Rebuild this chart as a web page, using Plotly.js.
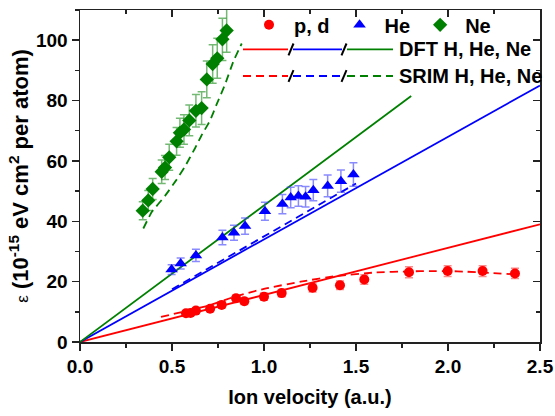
<!DOCTYPE html>
<html>
<head>
<meta charset="utf-8">
<script src="https://cdn.plot.ly/plotly-3.0.1.min.js"></script>
<style>html,body{margin:0;padding:0;background:#fff;}#chart{width:555px;height:416px;}</style>
</head>
<body>
<div id="chart"></div>
<script>
// ---- data ----
const pd_v = [0.576,0.601,0.630,0.707,0.770,0.848,0.893,1.000,1.096,1.264,1.413,1.545,1.788,1.998,2.188,2.364];
const pd_e = [9.5,9.6,10.4,11.0,12.3,14.5,13.5,15.0,16.2,18.0,18.8,20.7,23.1,23.5,23.5,22.7];
const pd_err = [0.8,0.8,0.9,0.9,1.0,1.1,1.1,1.2,1.2,1.4,1.4,1.6,1.8,1.8,1.8,1.7];

const he_v = [0.498,0.547,0.630,0.774,0.837,0.897,1.005,1.100,1.145,1.187,1.226,1.268,1.346,1.418,1.486];
const he_e = [24.0,26.0,28.7,34.6,36.2,38.4,43.3,45.7,47.9,48.4,48.1,50.3,51.7,53.3,55.5];
const he_err = [1.6,1.8,2.0,2.4,2.5,2.7,3.0,3.2,3.4,3.4,3.4,3.5,3.6,3.7,3.9];

const ne_v = [0.341,0.371,0.395,0.444,0.462,0.485,0.525,0.543,0.565,0.594,0.630,0.661,0.689,0.721,0.746,0.774,0.797];
const ne_e = [43.5,46.9,50.7,56.4,57.8,61.2,66.5,69.3,70.4,73.4,76.6,77.5,87.0,92.1,94.0,100.3,103.2];
const ne_err = [3.0,3.3,3.5,3.9,4.0,4.3,4.6,4.8,4.9,5.1,5.4,5.4,6.1,6.4,6.6,7.0,7.2];

const dft_h_v = [0, 2.5], dft_h_e = [0, 39.0];
const dft_he_v = [0, 2.5], dft_he_e = [0, 85.0];
const dft_ne_v = [0, 1.8], dft_ne_e = [0, 81.5];

const srim_h_v = [0.44,0.60,0.70,0.85,1.00,1.20,1.40,1.60,1.80,1.90,2.00,2.10,2.20,2.37];
const srim_h_e = [8.3,10.6,12.1,15.2,17.6,20.0,21.9,23.0,23.4,23.5,23.5,23.3,23.0,22.4];
const srim_he_v = [0.50,0.70,0.90,1.10,1.30,1.50];
const srim_he_e = [17.5,24.5,31.6,38.7,45.6,52.5];
const srim_ne_v = [0.344,0.389,0.462,0.525,0.571,0.625,0.661,0.707,0.743,0.788,0.833,0.879];
const srim_ne_e = [37.6,43.0,48.4,53.8,58.2,64.2,68.5,73.4,78.8,85.3,92.9,98.9];

const names = ['p, d', 'He', 'Ne'];
const legendLine2 = 'DFT H, He, Ne';
const legendLine3 = 'SRIM H, He, Ne';
const xTitle = 'Ion velocity (a.u.)';
const yTitle = '<span style="font-weight:normal;font-size:17px">ε</span> (10<sup>-15</sup> eV cm<sup>2</sup> per atom)';

// ---- style ----
const RED = '#ff0000', BLUE = '#0000ff', GREEN = '#008000';
const FONT = 'Liberation Sans, Arial, sans-serif';
const DASH = '8px,5px';
const M = {l: 80, r: 15, t: 5, b: 74};
const W = 555, H = 416;
const PW = W - M.l - M.r, PH = H - M.t - M.b;
const px2x = p => (p - M.l) / PW;
const py2y = p => (H - M.b - p) / PH;

function line(x, y, color, dash, spline) {
  const ln = {color: color, width: 1.8, dash: dash || 'solid'};
  if (spline) { ln.shape = 'spline'; ln.smoothing = spline; }
  return {x: x, y: y, mode: 'lines', type: 'scatter', showlegend: false, hoverinfo: 'skip', line: ln};
}
function pts(x, y, err, name, color, symbol, size, errColor) {
  return {x: x, y: y, name: name, mode: 'markers', type: 'scatter',
          marker: {color: color, symbol: symbol, size: size},
          error_y: {type: 'data', array: err, visible: true, color: errColor, thickness: 1.5, width: 4}};
}

const traces = [
  line(dft_h_v, dft_h_e, RED),
  line(dft_he_v, dft_he_e, BLUE),
  line(dft_ne_v, dft_ne_e, GREEN),
  line(srim_h_v, srim_h_e, RED, DASH, 0.6),
  line(srim_he_v, srim_he_e, BLUE, DASH),
  line(srim_ne_v, srim_ne_e, GREEN, DASH, 0.3),
  pts(pd_v, pd_e, pd_err, names[0], RED, 'circle', 10, 'rgba(255,60,60,0.6)'),
  pts(he_v, he_e, he_err, names[1], BLUE, 'triangle-up', 11, 'rgba(60,60,255,0.6)'),
  pts(ne_v, ne_e, ne_err, names[2], GREEN, 'diamond', 11, 'rgba(0,128,0,0.55)'),
  {x: [], y: [], xaxis: 'x2', yaxis: 'y2', showlegend: false, type: 'scatter', mode: 'markers'}
];

// custom legend rows (DFT / SRIM)
const shapes = [], annotations = [];
const segs = [[243, 288, RED], [293, 342, BLUE], [347, 393, GREEN]];
[[45, 'solid', legendLine2], [72, DASH, legendLine3]].forEach(([ry, dash, txt]) => {
  segs.forEach(([a, b, c]) => {
    shapes.push({type: 'line', xref: 'paper', yref: 'paper', x0: px2x(a), x1: px2x(b), y0: py2y(ry), y1: py2y(ry),
                 line: {color: c, width: 1.8, dash: dash}});
  });
  [291, 344].forEach(sx => {
    shapes.push({type: 'line', xref: 'paper', yref: 'paper', x0: px2x(sx - 2.5), x1: px2x(sx + 2.5),
                 y0: py2y(ry + 6), y1: py2y(ry - 6), line: {color: '#000', width: 2}});
  });
  annotations.push({xref: 'paper', yref: 'paper', x: px2x(397), y: py2y(ry), xanchor: 'left', yanchor: 'middle',
                    text: txt, showarrow: false, font: {family: FONT, size: 20, color: '#000', weight: 'bold'}});
});

const axCommon = {
  showgrid: false, zeroline: false, showline: true, linecolor: '#222', linewidth: 1.5,
  ticks: 'outside', ticklen: 7, tickwidth: 1.5, tickcolor: '#222',
  tickfont: {family: FONT, size: 19, color: '#000', weight: 'bold'}
};

const layout = {
  width: W, height: H, margin: M,
  paper_bgcolor: '#fff', plot_bgcolor: '#fff',
  font: {family: FONT, size: 19, color: '#000', weight: 'bold'},
  xaxis: Object.assign({}, axCommon, {
    range: [0, 2.5], dtick: 0.5, tick0: 0, tickformat: '.1f',
    minor: {dtick: 0.25, ticks: 'outside', ticklen: 4, tickwidth: 1.5, tickcolor: '#222'},
    title: {text: xTitle, font: {family: FONT, size: 20, color: '#000', weight: 'bold'}, standoff: 13}
  }),
  yaxis: Object.assign({}, axCommon, {
    range: [0, 110], dtick: 20, tick0: 0,
    minor: {dtick: 10, ticks: 'outside', ticklen: 4, tickwidth: 1.5, tickcolor: '#222'},
    title: {text: yTitle, font: {family: FONT, size: 22, color: '#000', weight: 'bold'}, standoff: 1}
  }),
  xaxis2: {overlaying: 'x', side: 'top', anchor: 'y', range: [0, 2.5], dtick: 0.5, showgrid: false, zeroline: false,
           showline: true, linecolor: '#222', linewidth: 1.5, ticks: 'inside', ticklen: 7, tickwidth: 1.5, tickcolor: '#222',
           showticklabels: false, minor: {dtick: 0.25, ticks: 'inside', ticklen: 4, tickwidth: 1.5, tickcolor: '#222'}},
  yaxis2: {overlaying: 'y', side: 'right', anchor: 'x', range: [0, 110], dtick: 20, showgrid: false, zeroline: false,
           showline: true, linecolor: '#222', linewidth: 1.5, ticks: 'inside', ticklen: 7, tickwidth: 1.5, tickcolor: '#222',
           showticklabels: false, minor: {dtick: 10, ticks: 'inside', ticklen: 4, tickwidth: 1.5, tickcolor: '#222'}},
  showlegend: true,
  legend: {orientation: 'h', x: px2x(244), xanchor: 'left', y: py2y(20), yanchor: 'middle',
           bgcolor: 'rgba(0,0,0,0)', borderwidth: 0, itemwidth: 40,
           font: {family: FONT, size: 20, color: '#000', weight: 'bold'}},
  shapes: shapes, annotations: annotations
};

Plotly.newPlot('chart', traces, layout, {displayModeBar: false, staticPlot: true});
</script>
</body>
</html>
